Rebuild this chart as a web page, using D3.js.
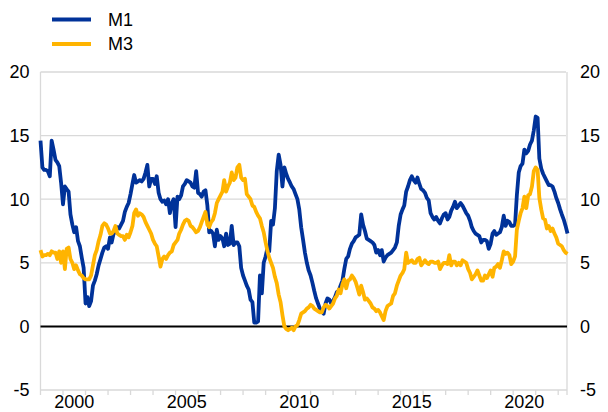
<!DOCTYPE html>
<html>
<head>
<meta charset="utf-8">
<script src="https://cdn.jsdelivr.net/npm/d3@7"></script>
<style>
  html, body { margin: 0; padding: 0; background: #fff; }
  text { font-family: "Liberation Sans", Arial, sans-serif; fill: #000; }
</style>
</head>
<body>
<svg id="chart" width="608" height="412"></svg>
<script>
// monthly annual growth rates, Jan 1999 - Jun 2022
const START = new Date(1999, 0, 1);
const END = new Date(2022, 6, 1);

const M1 = [
  14.6, 12.5, 12.3, 12.3, 12.2, 11.8, 14.6, 13.9, 13.1, 12.9, 12.6, 11.3,
  9.6, 11.0, 10.8, 10.6, 8.8, 8.0, 7.4, 7.8, 6.7, 6.3, 5.4, 4.6,
  1.8, 2.3, 1.6, 2.0, 3.2, 3.6, 4.1, 4.8, 5.3, 5.8, 6.2, 6.3,
  6.1, 7.0, 6.6, 7.3, 7.4, 7.8, 7.7, 8.0, 8.3, 9.0, 9.4, 9.7,
  10.4, 11.2, 11.9, 11.3, 11.4, 11.5, 11.4, 11.6, 12.1, 12.7, 11.0, 11.6,
  11.6, 11.2, 11.8, 10.5, 10.0, 9.8, 9.9, 9.6, 10.0, 8.9, 9.7, 10.0,
  7.8, 10.2, 10.0, 10.3, 11.0, 11.2, 11.5, 11.4, 11.3, 11.0, 10.9, 12.2,
  10.5, 10.4, 10.2, 10.6, 10.7, 9.5, 7.4, 7.5, 7.3, 6.3, 7.6, 6.8,
  7.1, 6.9, 6.3, 7.3, 6.4, 6.5, 7.9, 6.4, 6.6, 6.6, 6.3, 4.6,
  4.0, 3.6, 3.2, 2.9, 2.1, 1.9, 0.3, 0.3, 0.4, 4.0, 2.6, 5.0,
  5.5, 6.2, 5.9, 8.3, 8.0, 9.3, 12.2, 13.5, 12.7, 11.0, 12.5, 12.0,
  11.6, 11.3, 11.0, 10.8, 10.4, 10.0, 9.2, 7.8, 6.8, 5.8, 5.0, 4.4,
  4.0, 3.4, 2.8, 2.2, 1.8, 1.4, 1.2, 1.0, 1.8, 2.2, 2.1, 1.8,
  2.0, 2.3, 2.7, 2.8, 3.2, 3.6, 4.5, 5.3, 5.5, 6.1, 6.5, 6.7,
  7.0, 7.1, 7.2, 8.8, 8.0, 7.5, 6.9, 6.8, 6.7, 6.6, 6.4, 5.8,
  6.0, 5.6, 6.0, 5.1, 5.4, 5.6, 5.7, 5.8, 6.0, 6.2, 6.6, 7.9,
  8.8, 9.2, 9.5, 10.6, 11.0, 11.5, 11.8, 11.5, 11.3, 11.7, 11.2, 10.8,
  10.7, 10.5, 10.1, 9.9, 8.9, 8.6, 8.4, 8.6, 8.3, 8.1, 8.5, 8.8,
  8.9, 8.4, 8.6, 9.1, 9.4, 9.8, 9.3, 9.5, 9.7, 9.5, 9.2, 8.9,
  8.7, 8.3, 7.8, 7.5, 7.3, 7.2, 7.1, 6.6, 6.8, 6.8, 6.7, 6.1,
  6.5, 7.3, 7.5, 7.2, 7.3, 7.4, 7.8, 8.7, 7.9, 8.3, 8.2, 7.9,
  7.9, 8.0, 10.3, 12.1, 12.6, 12.8, 13.9, 13.6, 13.8, 14.3, 14.6, 15.4,
  16.5, 16.4, 13.2, 12.4, 12.0, 11.7, 11.4, 11.1, 11.1, 11.0, 10.6, 10.1,
  9.7, 9.2, 8.8, 8.4, 7.9, 7.3
];

const M3 = [
  6.0, 5.5, 5.6, 5.6, 5.7, 5.6, 5.9, 5.8, 5.8, 5.3, 5.9, 5.0,
  5.9, 4.5, 6.1, 6.2, 5.3, 5.0, 4.5, 4.8, 4.4, 4.1, 4.0, 3.8,
  3.7, 3.7, 3.7, 4.0, 4.8, 5.6, 6.0, 6.7, 7.2, 7.9, 8.1, 8.0,
  7.7, 7.3, 7.3, 7.5, 7.9, 7.3, 7.2, 7.1, 7.1, 6.8, 7.2, 7.0,
  7.4, 7.9, 8.9, 9.2, 8.7, 8.9, 8.8, 8.6, 8.2, 7.9, 7.6, 7.3,
  6.8, 6.5, 6.3, 5.5, 4.7, 5.3, 5.5, 5.3, 5.6, 5.8, 5.9, 6.4,
  6.6, 6.8, 7.3, 7.6, 8.0, 8.3, 8.4, 8.3, 7.9, 7.8, 7.6, 7.4,
  7.5, 7.8, 8.2, 8.6, 9.0, 8.0, 7.8, 8.2, 8.4, 8.9, 9.7, 10.0,
  10.3, 10.6, 11.5, 10.6, 11.0, 11.3, 12.1, 11.5, 11.7, 12.5, 12.7, 11.7,
  11.5, 11.6, 10.4, 10.2, 10.0, 9.5, 9.4, 9.0, 8.7, 8.5, 7.9, 7.4,
  6.6, 5.9, 5.4, 5.0, 4.6, 3.9, 3.4, 2.5, 1.9, 0.9, 0.0, -0.2,
  -0.3, -0.2, -0.1, -0.3, 0.0, 0.1, 0.5, 1.0, 1.1, 1.2, 1.4, 1.5,
  1.7, 1.6, 1.4, 1.3, 1.2, 1.1, 1.1, 1.5, 1.7, 1.6, 1.4, 1.6,
  1.8, 2.2, 2.4, 2.9, 2.6, 3.3, 3.7, 3.0, 3.6, 3.7, 4.0, 3.8,
  3.5, 3.0, 2.5, 3.2, 2.7, 2.1, 2.2, 2.0, 1.8, 1.5, 1.4, 1.2,
  1.3, 1.1, 0.8, 0.5, 1.2, 1.6, 1.7, 1.8, 2.4, 2.6, 3.2, 3.6,
  4.0, 4.2, 4.5, 5.8, 5.0, 5.1, 5.2, 5.0, 5.0, 5.3, 5.4, 4.8,
  5.0, 5.2, 5.0, 4.9, 5.1, 5.1, 5.0, 5.0, 5.1, 4.5, 4.8, 5.0,
  5.0, 4.9, 5.6, 4.8, 5.1, 5.1, 4.8, 5.0, 4.8, 5.2, 5.1, 5.0,
  4.5, 4.2, 3.7, 3.9, 4.1, 4.4, 4.0, 3.6, 3.6, 4.0, 3.8, 4.1,
  4.4, 3.9, 4.6, 4.7, 4.9, 4.6, 5.2, 5.9, 5.7, 5.8, 5.6, 4.9,
  5.1, 5.5, 7.6, 8.3, 8.9, 9.3, 10.2, 9.3, 10.3, 10.4, 11.0, 12.2,
  12.5, 12.3, 10.1, 9.2, 8.5, 8.4, 7.7, 7.9, 7.5, 7.7, 7.3, 7.0,
  6.5, 6.4, 6.3, 6.0, 5.8, 5.7
];

const SERIES_NAMES = ["M1", "M3"];
const Y_TICKS = [-5, 0, 5, 10, 15, 20];
const X_LABEL_YEARS = [2000, 2005, 2010, 2015, 2020];

const BLUE = "#003299";
const YELLOW = "#ffb400";
const GRID = "#d9d9d9";

const svg = d3.select("#chart");

const months = d3.timeMonth.range(START, END);
const series = [
  { name: SERIES_NAMES[0], color: BLUE, values: M1 },
  { name: SERIES_NAMES[1], color: YELLOW, values: M3 },
];

const x = d3
  .scaleTime()
  .domain([START, months[months.length - 1]])
  .range([40.5, 567.5]);

const y = d3.scaleLinear().domain([-5, 20]).range([390, 72]);

// gridlines
svg
  .append("g")
  .selectAll("line")
  .data(Y_TICKS.filter((d) => d > 0))
  .join("line")
  .attr("x1", 40.5)
  .attr("x2", 566)
  .attr("y1", (d) => y(d))
  .attr("y2", (d) => y(d))
  .attr("stroke", GRID)
  .attr("stroke-width", 1.3);

// frame: left, right, bottom
const frame = svg.append("g").attr("stroke", GRID).attr("stroke-width", 1.3);
frame.append("line").attr("x1", 40.5).attr("x2", 40.5).attr("y1", y(20)).attr("y2", y(-5) + 5);
frame.append("line").attr("x1", 567).attr("x2", 567).attr("y1", y(20)).attr("y2", y(-5) + 5);
frame.append("line").attr("x1", 40.5).attr("x2", 567).attr("y1", y(-5)).attr("y2", y(-5));

// year ticks on the bottom axis
frame
  .selectAll(".tick")
  .data(d3.timeYear.range(new Date(2000, 0, 1), new Date(2023, 0, 1)))
  .join("line")
  .attr("class", "tick")
  .attr("x1", (d) => x(d))
  .attr("x2", (d) => x(d))
  .attr("y1", y(-5))
  .attr("y2", y(-5) + 5);

// zero line
svg
  .append("line")
  .attr("x1", 40.5)
  .attr("x2", 567)
  .attr("y1", y(0))
  .attr("y2", y(0))
  .attr("stroke", "#000")
  .attr("stroke-width", 2);

// y labels, both sides
const yLabels = svg.append("g").style("font-size", "18px");
yLabels
  .selectAll(".yl")
  .data(Y_TICKS)
  .join("text")
  .attr("class", "yl")
  .attr("x", 29.5)
  .attr("y", (d) => y(d))
  .attr("dy", "0.36em")
  .attr("text-anchor", "end")
  .text((d) => d);
yLabels
  .selectAll(".yr")
  .data(Y_TICKS)
  .join("text")
  .attr("class", "yr")
  .attr("x", 580)
  .attr("y", (d) => y(d))
  .attr("dy", "0.36em")
  .attr("text-anchor", "start")
  .text((d) => d);

// x labels centred in their year
svg
  .append("g")
  .style("font-size", "18px")
  .selectAll("text")
  .data(X_LABEL_YEARS)
  .join("text")
  .attr("x", (d) => x(new Date(d, 6, 1)))
  .attr("y", 408)
  .attr("text-anchor", "middle")
  .text((d) => d);

// lines
const line = d3
  .line()
  .x((d, i) => x(months[i]))
  .y((d) => y(d));

svg
  .append("g")
  .selectAll("path")
  .data(series)
  .join("path")
  .attr("d", (d) => line(d.values))
  .attr("fill", "none")
  .attr("stroke", (d) => d.color)
  .attr("stroke-width", 3.8)
  .attr("stroke-linejoin", "round");

// legend
const legend = svg
  .append("g")
  .selectAll("g")
  .data(series)
  .join("g")
  .attr("transform", (d, i) => `translate(52, ${19.5 + i * 24.5})`);

legend
  .append("line")
  .attr("x1", 0)
  .attr("x2", 39)
  .attr("stroke", (d) => d.color)
  .attr("stroke-width", 4);

legend
  .append("text")
  .attr("x", 56)
  .attr("dy", "0.36em")
  .style("font-size", "18px")
  .text((d) => d.name);
</script>
</body>
</html>
